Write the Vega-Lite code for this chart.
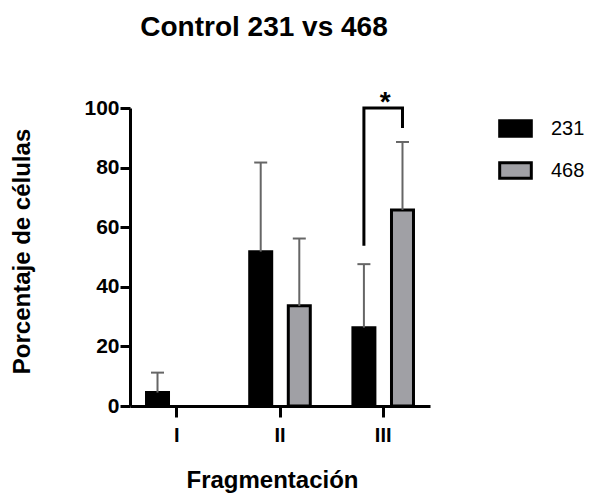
{
  "$schema": "https://vega.github.io/schema/vega-lite/v6.json",
  "autosize": {"type": "none"},
  "padding": {"left": 130, "top": 108, "right": 159, "bottom": 87},
  "width": 300,
  "height": 298,
  "background": "white",
  "title": {
    "text": "Control 231 vs 468",
    "font": "Liberation Sans",
    "fontSize": 28,
    "fontWeight": "bold",
    "color": "#000000",
    "anchor": "middle",
    "baseline": "alphabetic",
    "offset": 25,
    "dx": -16
  },
  "config": {
    "view": {"stroke": null},
    "font": "Liberation Sans"
  },
  "datasets": {
    "barras": [
      {"frag": "I", "grupo": "231", "valor": 4.5, "sup": 11.2},
      {"frag": "I", "grupo": "468", "valor": 0, "sup": null},
      {"frag": "II", "grupo": "231", "valor": 51.8, "sup": 81.7},
      {"frag": "II", "grupo": "468", "valor": 33.6, "sup": 56.2},
      {"frag": "III", "grupo": "231", "valor": 26.3, "sup": 47.6},
      {"frag": "III", "grupo": "468", "valor": 65.8, "sup": 88.6}
    ],
    "corchete": [
      {"frag": "III", "grupo": "231", "y": 53.8, "orden": 1},
      {"frag": "III", "grupo": "231", "y": 100, "orden": 2},
      {"frag": "III", "grupo": "468", "y": 100, "orden": 3},
      {"frag": "III", "grupo": "468", "y": 93.3, "orden": 4}
    ],
    "estrella": [
      {"frag": "III", "y": 99, "texto": "*"}
    ]
  },
  "layer": [
    {
      "data": {"name": "barras"},
      "transform": [{"filter": "datum.valor > 0"}],
      "mark": {"type": "bar", "stroke": "#000000", "strokeWidth": 3},
      "encoding": {
        "x": {
          "field": "frag",
          "type": "nominal",
          "sort": ["I", "II", "III"],
          "scale": {"domain": ["I", "II", "III"], "paddingInner": 0.413, "paddingOuter": 0.16},
          "axis": {
            "title": "Fragmentación",
            "titleFont": "Liberation Sans",
            "titleFontSize": 24,
            "titleFontWeight": "bold",
            "titleColor": "#000000",
            "titleBaseline": "alphabetic",
            "titleX": 142,
            "titleY": 81,
            "labelAngle": 0,
            "labelFont": "Liberation Sans",
            "labelFontSize": 20,
            "labelFontWeight": "bold",
            "labelColor": "#000000",
            "labelPadding": 8,
            "domainColor": "#000000",
            "domainWidth": 3,
            "tickColor": "#000000",
            "tickWidth": 3,
            "tickSize": 11,
            "grid": false,
            "zindex": 1
          }
        },
        "xOffset": {
          "field": "grupo",
          "type": "nominal",
          "scale": {"domain": ["231", "468"], "paddingInner": 0.43, "paddingOuter": 0}
        },
        "y": {
          "field": "valor",
          "type": "quantitative",
          "scale": {"domain": [0, 100], "nice": false, "zero": true},
          "axis": {
            "title": "Porcentaje de células",
            "titleFont": "Liberation Sans",
            "titleFontSize": 24,
            "titleFontWeight": "bold",
            "titleColor": "#000000",
            "titleBaseline": "alphabetic",
            "titleAngle": -90,
            "titleX": -101,
            "titleY": 143,
            "values": [0, 20, 40, 60, 80, 100],
            "labelFont": "Liberation Sans",
            "labelFontSize": 21,
            "labelFontWeight": "bold",
            "labelColor": "#000000",
            "labelPadding": 1,
            "domainColor": "#000000",
            "domainWidth": 3,
            "tickColor": "#000000",
            "tickWidth": 3,
            "tickSize": 10,
            "grid": false,
            "zindex": 1
          }
        },
        "color": {
          "field": "grupo",
          "type": "nominal",
          "scale": {"domain": ["231", "468"], "range": ["#000000", "#a0a0a5"]},
          "legend": {
            "title": null,
            "orient": "none",
            "legendX": 368,
            "legendY": 3,
            "padding": 0,
            "symbolType": "M-1,-0.485H1V0.485H-1Z",
            "symbolSize": 1000,
            "symbolStrokeColor": "#000000",
            "symbolStrokeWidth": 3,
            "symbolOpacity": 1,
            "labelFont": "Liberation Sans",
            "labelFontSize": 20,
            "labelColor": "#000000",
            "labelOffset": 18,
            "rowPadding": 10
          }
        }
      }
    },
    {
      "data": {"name": "barras"},
      "transform": [{"filter": "datum.sup != null"}],
      "mark": {"type": "rule", "color": "#666666", "strokeWidth": 2},
      "encoding": {
        "x": {"field": "frag", "type": "nominal", "sort": ["I", "II", "III"]},
        "xOffset": {"field": "grupo", "type": "nominal"},
        "y": {"field": "valor", "type": "quantitative"},
        "y2": {"field": "sup"}
      }
    },
    {
      "data": {"name": "barras"},
      "transform": [{"filter": "datum.sup != null"}],
      "mark": {"type": "tick", "color": "#666666", "size": 13, "thickness": 2, "opacity": 1},
      "encoding": {
        "x": {"field": "frag", "type": "nominal", "sort": ["I", "II", "III"]},
        "xOffset": {"field": "grupo", "type": "nominal"},
        "y": {"field": "sup", "type": "quantitative"}
      }
    },
    {
      "data": {"name": "corchete"},
      "mark": {"type": "line", "color": "#000000", "strokeWidth": 3, "strokeJoin": "miter", "strokeCap": "butt"},
      "encoding": {
        "x": {"field": "frag", "type": "nominal", "sort": ["I", "II", "III"]},
        "xOffset": {"field": "grupo", "type": "nominal"},
        "y": {"field": "y", "type": "quantitative"},
        "order": {"field": "orden", "type": "quantitative"}
      }
    },
    {
      "data": {"name": "estrella"},
      "mark": {"type": "text", "font": "Liberation Sans", "fontSize": 28, "fontWeight": "bold", "color": "#000000", "baseline": "alphabetic", "align": "center", "dx": 2},
      "encoding": {
        "x": {"field": "frag", "type": "nominal", "sort": ["I", "II", "III"]},
        "y": {"field": "y", "type": "quantitative"},
        "text": {"field": "texto"}
      }
    }
  ]
}
